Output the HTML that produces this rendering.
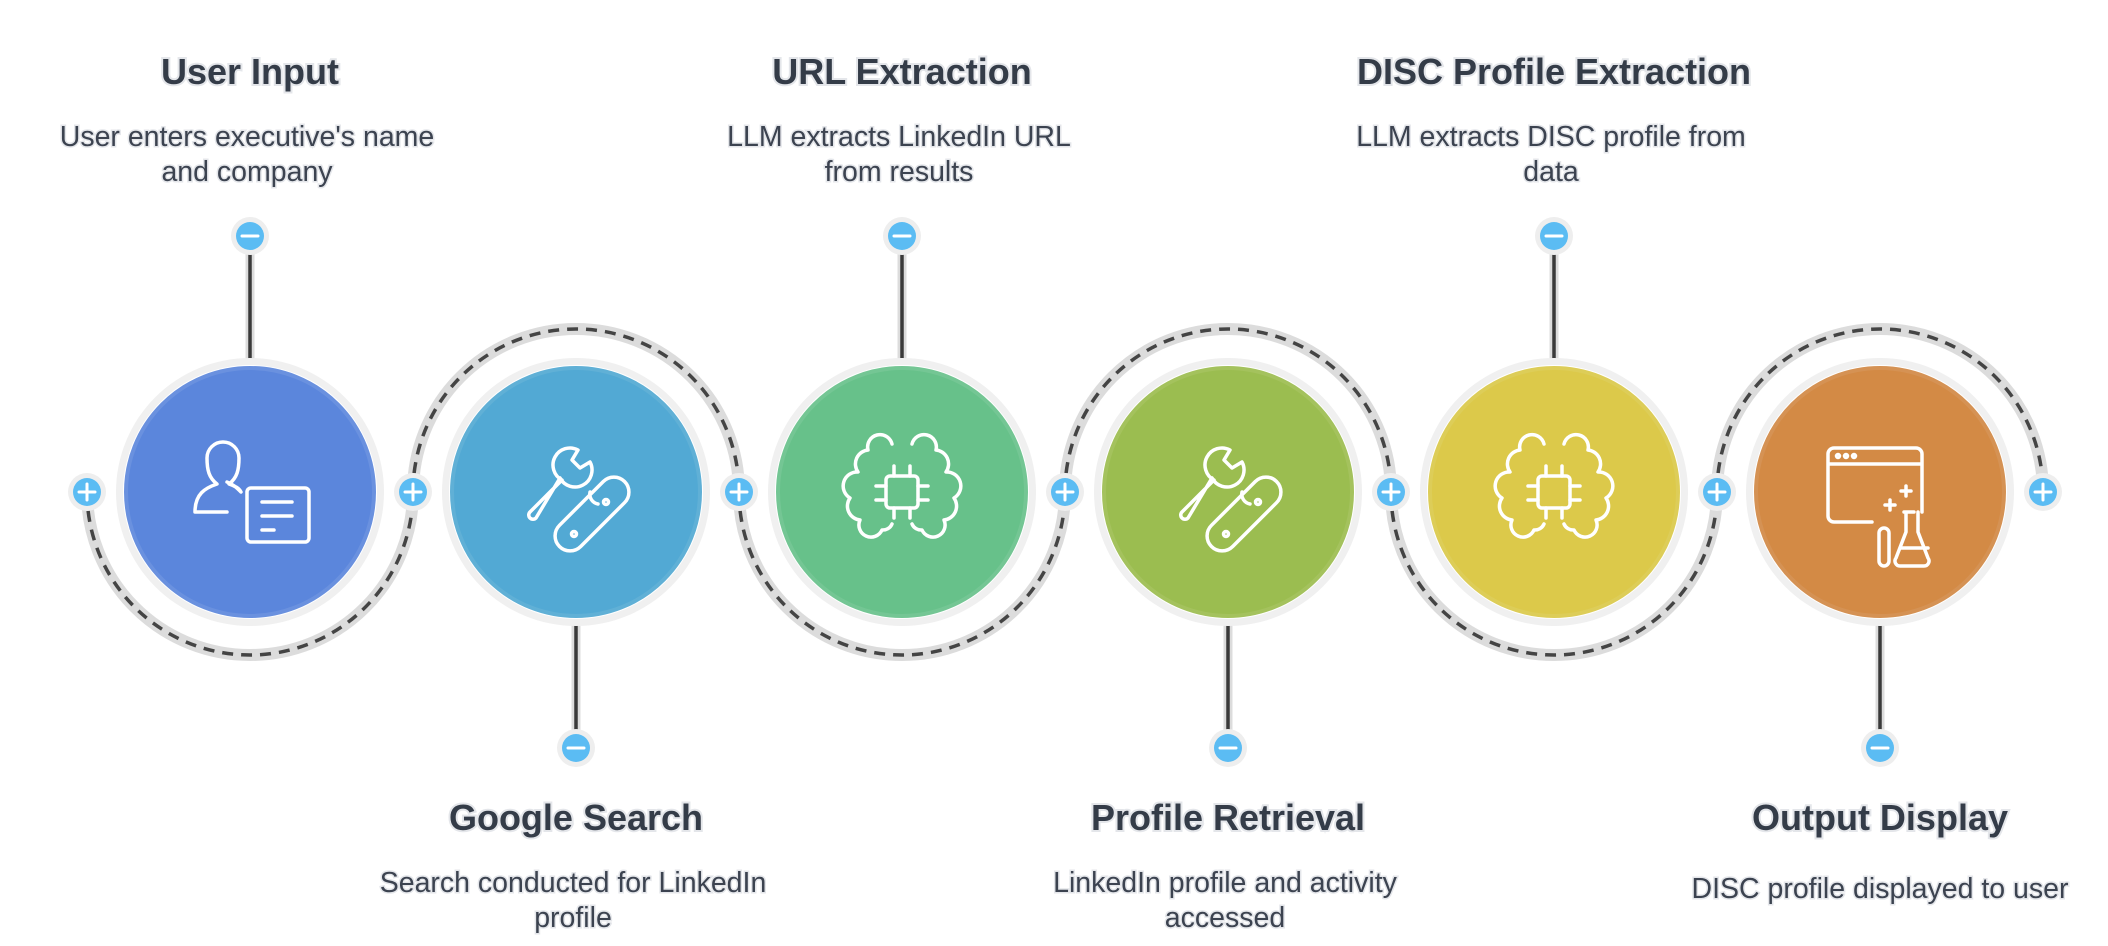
<!DOCTYPE html>
<html><head><meta charset="utf-8"><style>
html,body{margin:0;padding:0;background:#fff;}
svg{display:block;}
.t{font-family:"Liberation Sans",sans-serif;font-weight:bold;font-size:36px;text-anchor:middle;fill:#343c48;paint-order:stroke;stroke:#e4e6ea;stroke-width:4px;}
.d{font-family:"Liberation Sans",sans-serif;font-size:28.5px;text-anchor:middle;fill:#3c4350;paint-order:stroke;stroke:#e4e6ea;stroke-width:3px;}
.ic{fill:none;stroke:#fff;stroke-width:3.5;stroke-linecap:round;stroke-linejoin:round;}
</style></head><body>
<svg width="2108" height="946" viewBox="0 0 2108 946">
<defs>
<g id="arcD"><path d="M-163 0 A163 163 0 0 0 163 0" fill="none" stroke="#dcdcdc" stroke-width="12"/><path d="M-163 0 A163 163 0 0 0 163 0" fill="none" stroke="#444" stroke-width="3.5" stroke-dasharray="11 8"/></g>
<g id="arcU"><path d="M-163 0 A163 163 0 0 1 163 0" fill="none" stroke="#dcdcdc" stroke-width="12"/><path d="M-163 0 A163 163 0 0 1 163 0" fill="none" stroke="#444" stroke-width="3.5" stroke-dasharray="11 8"/></g>
<g id="plus"><circle r="19" fill="#eeeeee"/><circle r="14" fill="#5bbcf3"/><path d="M-8 0H8M0 -8V8" stroke="#fff" stroke-width="3" stroke-linecap="round"/></g>
<g id="minus"><circle r="19" fill="#eeeeee"/><circle r="14" fill="#5bbcf3"/><path d="M-8 0H8" stroke="#fff" stroke-width="3" stroke-linecap="round"/></g>
<g id="wrench" class="ic">
<path d="M-52 16 L-20 -16 A16 16 0 0 1 -4 -46 L-10 -36 L-2 -28 L8 -34 A16 16 0 0 1 -22 -18 L-46 22 A4 4 0 0 1 -52 16 Z" transform="translate(6,4)"/>
<rect x="-46" y="-15" width="92" height="30" rx="15" transform="translate(16,22) rotate(-45)"/>
<circle cx="-2" cy="42" r="2.5"/><circle cx="30" cy="10" r="2.5"/>
<path d="M14 0 a10 10 0 0 0 8 12"/>
</g>
<g id="brain" class="ic"><path d="M-10 -48 a12 12 0 0 0 -24 6 a14 14 0 0 0 -10 22 a14 14 0 0 0 -8 26 a14 14 0 0 0 10 22 a12 12 0 0 0 22 10 a10 10 0 0 0 10 -6 M10 -48 a12 12 0 0 1 24 6 a14 14 0 0 1 10 22 a14 14 0 0 1 8 26 a14 14 0 0 1 -10 22 a12 12 0 0 1 -22 10 a10 10 0 0 1 -10 -6"/><rect x="-16" y="-16" width="32" height="32" rx="4"/><path d="M-8 -16v-10M8 -16v-10M-8 16v10M8 16v10M-16 -6h-10M-16 8h-10M16 -6h10M16 8h10"/></g>
</defs>
<use href="#arcD" x="250" y="492"/>
<use href="#arcU" x="576" y="492"/>
<use href="#arcD" x="902" y="492"/>
<use href="#arcU" x="1228" y="492"/>
<use href="#arcD" x="1554" y="492"/>
<use href="#arcU" x="1880" y="492"/>
<g stroke="#dcdcdc" stroke-width="9"><path d="M250 236V366M902 236V366M1554 236V366M576 618V748M1228 618V748M1880 618V748"/></g>
<g stroke="#3a3a3a" stroke-width="3.5"><path d="M250 236V366M902 236V366M1554 236V366M576 618V748M1228 618V748M1880 618V748"/></g>
<g>
<circle cx="250" cy="492" r="134" fill="#f0f0f0"/><circle cx="250" cy="492" r="127" fill="#fff"/><circle cx="250" cy="492" r="124" fill="#5b86dc" stroke="#6a91df" stroke-width="4"/>
<circle cx="576" cy="492" r="134" fill="#f0f0f0"/><circle cx="576" cy="492" r="127" fill="#fff"/><circle cx="576" cy="492" r="124" fill="#52a9d4" stroke="#60b0d6" stroke-width="4"/>
<circle cx="902" cy="492" r="134" fill="#f0f0f0"/><circle cx="902" cy="492" r="127" fill="#fff"/><circle cx="902" cy="492" r="124" fill="#67c18a" stroke="#74c694" stroke-width="4"/>
<circle cx="1228" cy="492" r="134" fill="#f0f0f0"/><circle cx="1228" cy="492" r="127" fill="#fff"/><circle cx="1228" cy="492" r="124" fill="#9bbd50" stroke="#a4c25d" stroke-width="4"/>
<circle cx="1554" cy="492" r="134" fill="#f0f0f0"/><circle cx="1554" cy="492" r="127" fill="#fff"/><circle cx="1554" cy="492" r="124" fill="#dcc94a" stroke="#ddcd58" stroke-width="4"/>
<circle cx="1880" cy="492" r="134" fill="#f0f0f0"/><circle cx="1880" cy="492" r="127" fill="#fff"/><circle cx="1880" cy="492" r="124" fill="#d38a45" stroke="#d59254" stroke-width="4"/>
</g>
<g class="ic" transform="translate(250,492)"><path d="M-55 20 h32 M-55 20 c0 -18 10 -24 22 -28 c-8 -6 -10 -14 -10 -26 a16 16 0 0 1 32 0 c0 12 -2 20 -10 26 c6 2 10 4 12 8 c-4 -4 -8 -8 -14 -10"/><rect x="-3" y="-4" width="62" height="54" rx="4"/><path d="M12 10h30M12 24h30M12 38h12"/></g>
<use href="#wrench" x="576" y="492"/>
<use href="#brain" x="902" y="492"/>
<use href="#wrench" x="1228" y="492"/>
<use href="#brain" x="1554" y="492"/>
<g class="ic" transform="translate(1880,492)"><path d="M-8 30 h-38 a6 6 0 0 1 -6 -6 v-62 a6 6 0 0 1 6 -6 h82 a6 6 0 0 1 6 6 v58 M-52 -28h94"/><circle cx="-42" cy="-36" r="1.5"/><circle cx="-34" cy="-36" r="1.5"/><circle cx="-26" cy="-36" r="1.5"/><path d="M26 -6v10M21 -1h10M10 8v10M5 13h10"/><rect x="-1" y="36" width="10" height="38" rx="5"/><path d="M24 20h10M26 20v20l-10 26a5 5 0 0 0 4 8h24a5 5 0 0 0 4 -8l-10 -26v-20M20 56h28"/></g>
<use href="#plus" x="87" y="492"/><use href="#plus" x="413" y="492"/><use href="#plus" x="739" y="492"/><use href="#plus" x="1065" y="492"/><use href="#plus" x="1391" y="492"/><use href="#plus" x="1717" y="492"/><use href="#plus" x="2043" y="492"/>
<use href="#minus" x="250" y="236"/><use href="#minus" x="902" y="236"/><use href="#minus" x="1554" y="236"/>
<use href="#minus" x="576" y="748"/><use href="#minus" x="1228" y="748"/><use href="#minus" x="1880" y="748"/>
<text class="t" x="250" y="84">User Input</text>
<text class="d" x="247" y="146">User enters executive's name</text>
<text class="d" x="247" y="181">and company</text>
<text class="t" x="902" y="84">URL Extraction</text>
<text class="d" x="899" y="146">LLM extracts LinkedIn URL</text>
<text class="d" x="899" y="181">from results</text>
<text class="t" x="1554" y="84">DISC Profile Extraction</text>
<text class="d" x="1551" y="146">LLM extracts DISC profile from</text>
<text class="d" x="1551" y="181">data</text>
<text class="t" x="576" y="830">Google Search</text>
<text class="d" x="573" y="892">Search conducted for LinkedIn</text>
<text class="d" x="573" y="927">profile</text>
<text class="t" x="1228" y="830">Profile Retrieval</text>
<text class="d" x="1225" y="892">LinkedIn profile and activity</text>
<text class="d" x="1225" y="927">accessed</text>
<text class="t" x="1880" y="830">Output Display</text>
<text class="d" x="1880" y="898">DISC profile displayed to user</text>
</svg>
</body></html>
